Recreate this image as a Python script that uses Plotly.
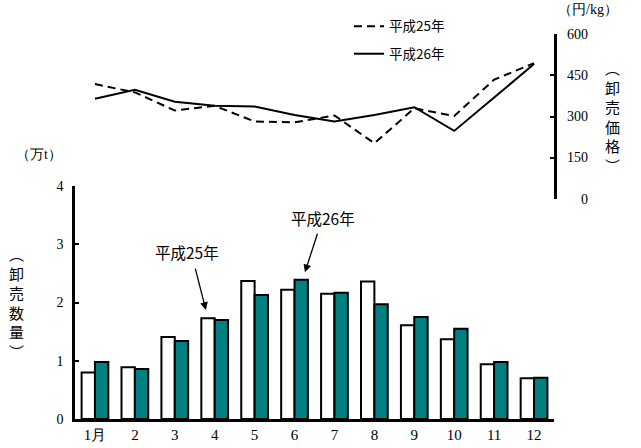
import plotly.graph_objects as go

months = list(range(1, 13))
month_labels = ["1月", "2", "3", "4", "5", "6", "7", "8", "9", "10", "11", "12"]
qty_h25 = [0.80, 0.89, 1.41, 1.73, 2.37, 2.22, 2.15, 2.36, 1.61, 1.37, 0.94, 0.70]
qty_h26 = [0.98, 0.86, 1.34, 1.70, 2.13, 2.39, 2.17, 1.97, 1.75, 1.55, 0.98, 0.71]
price_h25 = [418, 388, 322, 339, 282, 279, 304, 203, 330, 302, 434, 494]
price_h26 = [365, 397, 354, 339, 337, 306, 282, 306, 334, 248, 369, 491]
qty_ticks = [0, 1, 2, 3, 4]
price_ticks = [0, 150, 300, 450, 600]

SERIF = "Liberation Serif, DejaVu Serif, serif"
JP = "Noto Sans CJK JP"

fig = go.Figure()
fig.add_trace(go.Bar(x=months, y=qty_h25, marker=dict(color="white", line=dict(color="black", width=2)),
                     showlegend=False, yaxis="y"))
fig.add_trace(go.Bar(x=months, y=qty_h26, marker=dict(color="#008080", line=dict(color="black", width=2)),
                     showlegend=False, yaxis="y"))
fig.add_trace(go.Scatter(x=months, y=price_h25, mode="lines", name="平成25年", yaxis="y2",
                         legendgroup="a", line=dict(color="black", width=2, dash="8px,5px")))
fig.add_trace(go.Scatter(x=months, y=price_h26, mode="lines", name="平成26年", yaxis="y2",
                         legendgroup="b", line=dict(color="black", width=2)))

annotations = []
for v in price_ticks:
    annotations.append(dict(x=1.075, y=v, xref="paper", yref="y2", text=str(v), showarrow=False,
                            xanchor="right", yanchor="middle", font=dict(family=SERIF, size=14, color="black")))
annotations += [
    dict(x=1.07, y=1.0 + 24 / 385, xref="paper", yref="paper", text="（円/kg）", showarrow=False,
         xanchor="center", yanchor="middle", font=dict(family=SERIF, size=14, color="black")),
    dict(x=1.123, y=0.785, xref="paper", yref="paper", text="︵<br>卸<br>売<br>価<br>格<br>︶", showarrow=False,
         xanchor="center", yanchor="middle", font=dict(family=JP, size=15, color="black")),
    dict(x=-0.075, y=0.686, xref="paper", yref="paper", text="（万t）", showarrow=False,
         xanchor="center", yanchor="middle", font=dict(family=SERIF, size=14, color="black")),
    dict(x=-0.122, y=0.303, xref="paper", yref="paper", text="︵<br>卸<br>売<br>数<br>量<br>︶", showarrow=False,
         xanchor="center", yanchor="middle", font=dict(family=JP, size=15, color="black")),
    dict(x=3.31, y=2.87, xref="x", yref="y", text="平成25年", showarrow=False,
         font=dict(family=JP, size=15.5, color="black")),
    dict(x=6.72, y=3.45, xref="x", yref="y", text="平成26年", showarrow=False,
         font=dict(family=JP, size=15.5, color="black")),
    dict(x=3.78, y=1.87, xref="x", yref="y", text="", showarrow=True, ax=-11, ay=-43,
         arrowhead=2, arrowsize=1.2, arrowwidth=1.3, arrowcolor="black"),
    dict(x=6.26, y=2.52, xref="x", yref="y", text="", showarrow=True, ax=13, ay=-40,
         arrowhead=2, arrowsize=1.2, arrowwidth=1.3, arrowcolor="black"),
]

fig.update_layout(
    width=641, height=448,
    margin=dict(l=75, r=87, t=34, b=29, pad=0, autoexpand=False),
    paper_bgcolor="white", plot_bgcolor="white",
    barmode="group", bargap=0.33, bargroupgap=0,
    font=dict(family=SERIF, size=14, color="black"),
    xaxis=dict(range=[0.5, 12.5], tickvals=months, ticktext=month_labels, showline=True,
               linecolor="black", linewidth=2.5, ticks="", showgrid=False, zeroline=False,
               tickfont=dict(family=SERIF, size=15), anchor="y", automargin=False),
    yaxis=dict(domain=[0, 0.605], range=[0, 4], tickvals=qty_ticks, showline=True, linecolor="black",
               linewidth=2.5, ticks="inside", ticklen=4, tickwidth=2, tickcolor="black", automargin=False,
               showgrid=False, zeroline=False, tickfont=dict(family=SERIF, size=14), ticklabelstandoff=6),
    yaxis2=dict(domain=[0.571, 1], range=[0, 600], tickvals=price_ticks, side="right", anchor="x",
                showline=True, linecolor="black", linewidth=2.5, ticks="inside", ticklen=4, tickwidth=2,
                tickcolor="black", showgrid=False, zeroline=False, showticklabels=False, automargin=False),
    legend=dict(x=0.572, y=1.06, xanchor="left", yanchor="top", bgcolor="rgba(0,0,0,0)",
                font=dict(family=JP, size=13.5), tracegroupgap=7, itemwidth=30),
    annotations=annotations,
)

fig.write_html("out.html", config={"displayModeBar": False},
               post_script="document.body.style.margin='0';document.body.style.padding='0';")
